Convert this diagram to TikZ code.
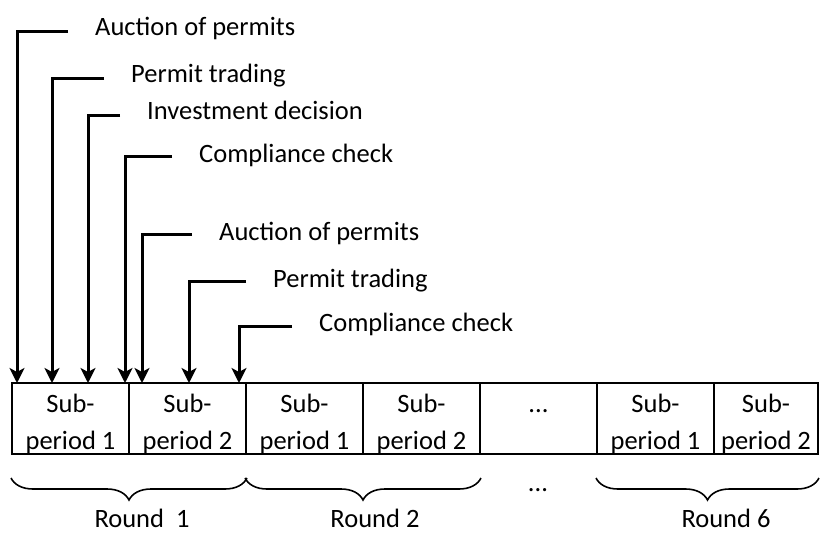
\documentclass[tikz,border=0pt]{standalone}
\usepackage{fontspec}
\setmainfont{Carlito}
\usetikzlibrary{arrows.meta, decorations.pathreplacing}
\tikzstyle{period} = [rectangle, draw=black, line width=2pt, minimum width=117pt, minimum height=71pt, inner sep=0pt, align=center, font=\fontsize{26.5}{37}\selectfont]
\tikzstyle{event} = [anchor=base west, inner sep=0pt, font=\fontsize{26.5}{32}\selectfont]
\tikzstyle{label} = [anchor=base, inner sep=0pt, font=\fontsize{26.5}{32}\selectfont]
\tikzstyle{arrow} = [line width=3pt, -{Stealth[length=15pt,width=15pt,inset=4pt]}]
\tikzstyle{roundbrace} = [decorate, decoration={brace, mirror, amplitude=22pt}, line width=1.6pt]

\begin{document}
\begin{tikzpicture}[x=1pt, y=-1pt]
  \useasboundingbox (0,0) rectangle (821,533);

  % sub-periods
  \node (p1) [period] at (70.5,418.5) {\rule{0pt}{29pt}Sub-\\period 1};
  \node (p2) [period] at (187.5,418.5) {\rule{0pt}{29pt}Sub-\\period 2};
  \node (p3) [period] at (304.5,418.5) {\rule{0pt}{29pt}Sub-\\period 1};
  \node (p4) [period] at (421.5,418.5) {\rule{0pt}{29pt}Sub-\\period 2};
  \node (p5) [period] at (538.5,418.5) {\rule{0pt}{29pt}...\\\vphantom{p}};
  \node (p6) [period] at (655.5,418.5) {\rule{0pt}{29pt}Sub-\\period 1};
  \node (p7) [period, minimum width=104pt] at (766,418.5) {\rule{0pt}{29pt}Sub-\\period 2};

  % events
  \node (ev1) [event] at (95,35) {Auction of permits};
  \node (ev2) [event] at (131,82) {Permit trading};
  \node (ev3) [event] at (147,119) {Investment decision};
  \node (ev4) [event] at (199,162) {Compliance check};
  \node (ev5) [event] at (219,240) {Auction of permits};
  \node (ev6) [event] at (273,287) {Permit trading};
  \node (ev7) [event] at (319,331) {Compliance check};

  \coordinate (t1) at (17,383);
  \coordinate (t2) at (52,383);
  \coordinate (t3) at (88,383);
  \coordinate (t4) at (125,383);
  \coordinate (t5) at (142,383);
  \coordinate (t6) at (189,383);
  \coordinate (t7) at (239,383);

  \draw [arrow] ([xshift=-27pt,yshift=4pt]ev1.base west) -| (t1);
  \draw [arrow] ([xshift=-27pt,yshift=4pt]ev2.base west) -| (t2);
  \draw [arrow] ([xshift=-27pt,yshift=4pt]ev3.base west) -| (t3);
  \draw [arrow] ([xshift=-27pt,yshift=6pt]ev4.base west) -| (t4);
  \draw [arrow] ([xshift=-27pt,yshift=6pt]ev5.base west) -| (t5);
  \draw [arrow] ([xshift=-27pt,yshift=6pt]ev6.base west) -| (t6);
  \draw [arrow] ([xshift=-27pt,yshift=5pt]ev7.base west) -| (t7);

  % rounds
  \draw [roundbrace] ([yshift=-23pt]p1.south west) -- ([yshift=-23pt]p2.south east);
  \draw [roundbrace] ([yshift=-23pt]p3.south west) -- ([yshift=-23pt]p4.south east);
  \draw [roundbrace] ([yshift=-23pt]p6.south west) -- ([yshift=-23pt]p7.south east);
  \node (r1) [label] at (142,527) {Round~~1};
  \node (r2) [label] at (375,527) {Round 2};
  \node (rdots) [label] at (538,491) {...};
  \node (r6) [label] at (726,527) {Round 6};
\end{tikzpicture}
\end{document}
